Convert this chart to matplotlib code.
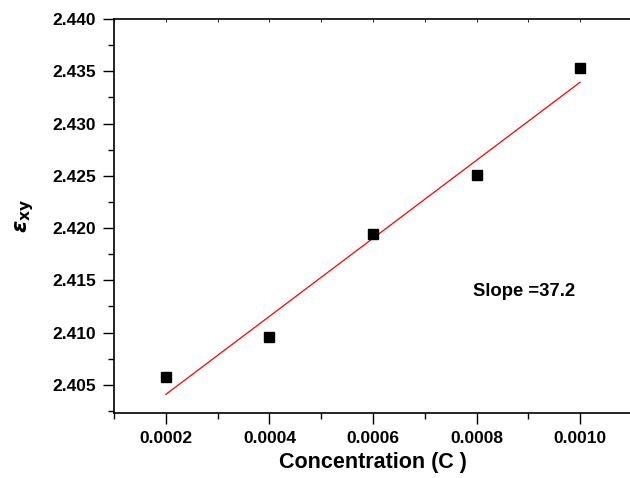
import matplotlib
matplotlib.use("Agg")
import matplotlib.pyplot as plt
import numpy as np
from matplotlib.ticker import MultipleLocator, FormatStrFormatter

plt.rcParams['font.family'] = ['Liberation Sans', 'DejaVu Sans']
plt.rcParams['font.weight'] = 'bold'
plt.rcParams['mathtext.fontset'] = 'dejavusans'

# data
conc = [0.0002, 0.0004, 0.0006, 0.0008, 0.0010]
eps_xy = [2.4057, 2.4096, 2.4194, 2.4251, 2.4353]

# linear fit
k, b = np.polyfit(conc, eps_xy, 1)
fit_x = np.array([conc[0], conc[-1]])
fit_y = k * fit_x + b

fig = plt.figure(figsize=(6.3, 4.78), dpi=100)
ax = fig.add_axes([0.181, 0.136, 0.822, 0.824])

ax.plot(fit_x, fit_y, color='red', lw=0.9)
ax.plot(conc, eps_xy, 's', color='black', markersize=6.5)

ax.set_xlim(0.0001, 0.0011)
ax.set_ylim(2.4023, 2.440)
ax.xaxis.set_major_locator(MultipleLocator(0.0002))
ax.xaxis.set_minor_locator(MultipleLocator(0.0001))
ax.yaxis.set_major_locator(MultipleLocator(0.005))
ax.yaxis.set_minor_locator(MultipleLocator(0.0025))
ax.xaxis.set_major_formatter(FormatStrFormatter('%.4f'))
ax.yaxis.set_major_formatter(FormatStrFormatter('%.3f'))

ax.spines['right'].set_visible(False)
for s in ['left', 'bottom', 'top']:
    ax.spines[s].set_linewidth(1.2)
ax.tick_params(which='major', direction='out', length=8, width=1.0, labelsize=12.5, pad=5)
ax.tick_params(which='minor', direction='out', length=4, width=1.0)
ax.tick_params(axis='x', which='both', top=True, labeltop=False)
# tiny ticks on the top axis only
for t in ax.xaxis.get_major_ticks() + ax.xaxis.get_minor_ticks():
    t.tick2line.set_markersize(2)
    t.tick2line.set_markeredgewidth(0.6)
    t.tick2line.set_marker(3)

ax.set_xlabel('Concentration (C )', fontsize=15.5, fontweight='bold', labelpad=4)
ax.set_ylabel(r'$\epsilon_{\mathbf{xy}}$', fontsize=16, labelpad=12)

ax.text(0.000793, 2.4135, 'Slope =37.2', fontsize=13.3, fontweight='bold')

fig.savefig('out.png', dpi=100)
